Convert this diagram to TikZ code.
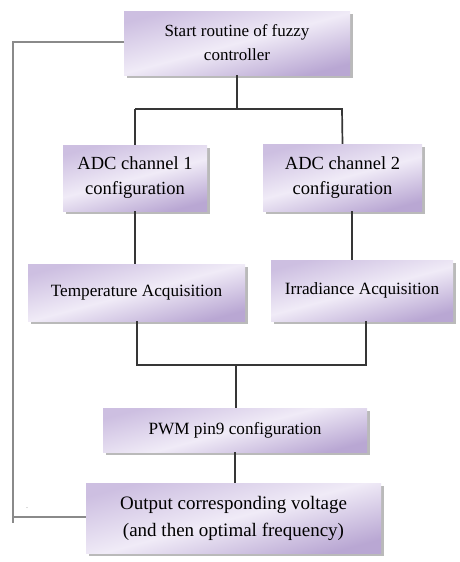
\documentclass[tikz,border=0pt]{standalone}
\usepackage{fontspec}
\setmainfont{Liberation Serif}
\usetikzlibrary{shadows,calc}
\definecolor{boxtop}{HTML}{CDBFE1}
\definecolor{boxmid}{HTML}{F0EBF7}
\definecolor{boxbot}{HTML}{B9A7D3}
\definecolor{linedark}{HTML}{363636}
\definecolor{linegray}{HTML}{8A8A8A}
\tikzset{
  x=1pt,y=-1pt,
  flowbox/.style={rectangle, inner sep=2pt, align=center, text=black,
    top color=boxtop, bottom color=boxbot, middle color=boxmid, shading angle=15,
    drop shadow={shadow xshift=3pt, shadow yshift=-3pt, fill=black!45, opacity=0.6}},
  conn/.style={draw=linedark, line width=1.7pt},
  fback/.style={draw=linegray, line width=1.7pt}
}
\begin{document}
\begin{tikzpicture}
\useasboundingbox (0,0) rectangle (460,562);
\node[flowbox, minimum width=226pt, minimum height=64pt, font=\fontsize{17}{24}\selectfont] (start) at (237,43) {Start routine of fuzzy\\controller};
\node[flowbox, minimum width=144pt, minimum height=66pt, font=\fontsize{18.5}{25}\selectfont] (adc1) at (135,178) {ADC channel 1\\configuration};
\node[flowbox, minimum width=159pt, minimum height=67pt, font=\fontsize{18.5}{25}\selectfont] (adc2) at (342.5,177.5) {ADC channel 2\\configuration};
\node[flowbox, minimum width=217pt, minimum height=57pt, font=\fontsize{17.2}{20}\selectfont] (temp) at (136.5,292.5) {Temperature Acquisition};
\node[flowbox, minimum width=182pt, minimum height=61pt, font=\fontsize{17.2}{20}\selectfont] (irr) at (362,290.5) {Irradiance Acquisition};
\node[flowbox, minimum width=264pt, minimum height=44pt, font=\fontsize{17.2}{20}\selectfont] (pwm) at (235,430) {PWM pin9 configuration};
\node[flowbox, minimum width=295pt, minimum height=70pt, font=\fontsize{19}{27}\selectfont] (out) at (233.5,518) {Output corresponding voltage\\(and then optimal frequency)};
% junction coordinates
\coordinate (j1) at (237,109);
\coordinate (j2) at (236,365);
\coordinate (fb1) at (13,42);
\coordinate (fb2) at (13,517);
\coordinate (fbend) at (13,523);
% connectors
\draw[conn] (start.south) -- (j1);
\draw[conn] (135,109) -| (adc1.north);
\draw[conn] (135,109) -- (342,109) -- (adc2.north);
\draw[conn] (adc1.south) -- (adc1.south |- temp.north);
\draw[conn] (352,211) -- (352,260);
\draw[conn] (137,321) -- (137,365) -- (366,365) -- (366,321);
\draw[conn] (j2) -- (j2 |- pwm.north);
\draw[conn] (pwm.south) -- (pwm.south |- out.north);
\draw[fback] (start.west |- fb1) -- (fb1) -- (fbend);
\draw[fback] (fb2) -- (fb2 -| out.west);
\node[text=linegray, font=\fontsize{8}{8}\selectfont, inner sep=0pt] (dot) at (27,508) {.};
\end{tikzpicture}
\end{document}
